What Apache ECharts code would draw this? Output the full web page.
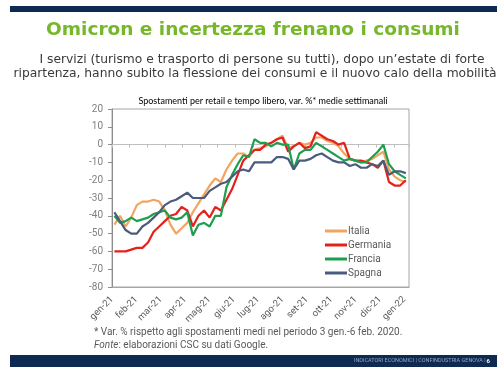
<!DOCTYPE html>
<html><head><meta charset="utf-8">
<script src="https://cdn.jsdelivr.net/npm/echarts@6/dist/echarts.min.js"></script>
<style>html,body{margin:0;padding:0;background:#fff}#c{width:504px;height:378px}</style>
</head><body><div id="c"></div>
<script>
// Weekly observations: day offset from 1 Jan 2021 (first week starts 4 Jan 2021)
const weekDays = Array.from({length: 53}, (_, i) => 3 + 7 * i);
const monthLabels = ['gen-21','feb-21','mar-21','apr-21','mag-21','giu-21','lug-21','ago-21','set-21','ott-21','nov-21','dic-21','gen-22'];
const yTicks = [-80, 20, 10];

const italia = [-45,-40,-46,-41,-34,-32,-32,-31,-32,-37,-45,-50,-47,-44,-38,-33,-28,-23,-19,-21,-14,-9,-5,-5,-7,-3,-2,-1,1,3,5,-2,-1,1,0,1,4,4,2,1,-1,-5,-8,-9,-10,-9,-8,-6,-4,-14,-18,-20,-21];
const germania = [-60,-60,-60,-59,-58,-58,-55,-49,-46,-43,-40,-39,-35,-37,-46,-40,-37,-41,-35,-37,-31,-25,-17,-9,-6,-3,-3,0,1,3,4,-4,-1,1,-2,-1,7,5,3,2,0,1,-8,-9,-9,-10,-11,-13,-9,-21,-23,-23,-20];
const francia = [-40,-44,-43,-41,-43,-42,-41,-39,-38,-37,-41,-42,-41,-38,-51,-45,-44,-46,-40,-40,-24,-17,-11,-6,-7,3,1,1,-1,1,0,0,-14,-5,-3,-3,1,-1,-3,-5,-7,-9,-8,-9,-10,-10,-7,-4,0,-11,-15,-17,-19];
const spagna = [-38,-43,-48,-50,-50,-46,-44,-41,-38,-34,-32,-31,-29,-27,-30,-30,-30,-26,-24,-22,-21,-18,-15,-14,-15,-10,-10,-10,-10,-7,-7,-8,-14,-9,-9,-8,-6,-5,-7,-9,-10,-10,-12,-11,-13,-13,-11,-12,-9,-17,-15,-15,-16];

const seriesDefs = [
  {name: 'Italia', data: italia, color: '#F2A461'},
  {name: 'Germania', data: germania, color: '#E3211C'},
  {name: 'Francia', data: francia, color: '#1E9F4E'},
  {name: 'Spagna', data: spagna, color: '#4A5B7C'}
];

const MONTH = 365.25 / 12;
const chart = echarts.init(document.getElementById('c'), null, {renderer: 'canvas'});
const navy = '#0E2A50';
chart.setOption({
  animation: false,
  backgroundColor: '#fff',
  grid: {left: 112, right: 95, top: 109, bottom: 91, show: true, borderColor: '#A6A6A6', borderWidth: 1, containLabel: false},
  title: [
    {text: 'Spostamenti per retail e tempo libero, var. %* medie settimanali', left: 258, top: 92, textAlign: 'center',
     textStyle: {color: '#000', fontFamily: 'Lato', fontWeight: 'normal', fontSize: 9}}
  ],
  legend: {
    orient: 'vertical', left: 320, top: 221, itemWidth: 22, itemHeight: 3, itemGap: 4,
    icon: 'rect',
    textStyle: {color: '#595959', fontFamily: 'Roboto', fontSize: 10, padding: [0, 0, 0, -4]},
    data: seriesDefs.map(s => s.name)
  },
  xAxis: [
    {type: 'value', min: 0, max: 371, interval: MONTH, position: 'bottom',
     axisLine: {onZero: false, lineStyle: {color: '#A6A6A6'}},
     axisTick: {show: false}, splitLine: {show: false},
     axisLabel: {rotate: 45, margin: 11, color: '#595959', fontFamily: 'Roboto', fontSize: 9.5, showMaxLabel: false,
       formatter: v => { const k = Math.round(v / MONTH); return Math.abs(v - k * MONTH) < 0.5 ? (monthLabels[k] || '') : ''; }}},
    {type: 'value', min: 0, max: 371, interval: 22, position: 'bottom',
     axisLine: {onZero: true, lineStyle: {color: '#BFBFBF'}},
     axisTick: {show: true, length: 3, lineStyle: {color: '#BFBFBF'}},
     axisLabel: {show: false}, splitLine: {show: false}}
  ],
  yAxis: {type: 'value', min: yTicks[0], max: yTicks[1], interval: yTicks[2],
    axisLine: {show: true, lineStyle: {color: '#8C8C8C'}},
    axisTick: {show: true, length: 4, lineStyle: {color: '#8C8C8C'}},
    splitLine: {show: false},
    axisLabel: {color: '#7F7F7F', fontFamily: 'Roboto', fontSize: 10, margin: 9}},
  series: seriesDefs.map(s => ({
    name: s.name, type: 'line', xAxisIndex: 0, symbol: 'none', smooth: false,
    data: s.data.map((v, i) => [weekDays[i], v]),
    lineStyle: {color: s.color, width: 2.2}, itemStyle: {color: s.color}
  })),
  graphic: [
    {type: 'rect', shape: {x: 10, y: 6, width: 487, height: 6}, style: {fill: navy}},
    {type: 'text', x: 253, y: 30, style: {text: 'Omicron e incertezza frenano i consumi', fill: '#76B82A', font: 'bold 18.5px "DejaVu Sans"', textAlign: 'center', textVerticalAlign: 'middle'}},
    {type: 'text', x: 262, y: 60, style: {text: 'I servizi (turismo e trasporto di persone su tutti), dopo un\u2019estate di forte', fill: '#3A3A3A', font: '12.3px "DejaVu Sans"', textAlign: 'center', textVerticalAlign: 'middle'}},
    {type: 'text', x: 255, y: 74, style: {text: 'ripartenza, hanno subito la flessione dei consumi e il nuovo calo della mobilità', fill: '#3A3A3A', font: '12.3px "DejaVu Sans"', textAlign: 'center', textVerticalAlign: 'middle'}},
    {type: 'rect', shape: {x: 10, y: 355, width: 487, height: 12}, style: {fill: navy}},
    {type: 'text', x: 487, y: 361, style: {text: 'INDICATORI ECONOMICI | CONFINDUSTRIA GENOVA | ', fill: '#8FA3C0', font: '5.5px Roboto', textAlign: 'right', textVerticalAlign: 'middle'}},
    {type: 'text', x: 490, y: 361, style: {text: '6', fill: '#fff', font: 'bold 6px Roboto', textAlign: 'right', textVerticalAlign: 'middle'}},
    {type: 'text', x: 94, y: 332, style: {text: '* Var. % rispetto agli spostamenti medi nel periodo 3 gen.-6 feb. 2020.', fill: '#595959', font: '10px Roboto', textVerticalAlign: 'middle'}},
    {type: 'text', x: 94, y: 345, style: {text: '{i|Fonte}: elaborazioni CSC su dati Google.', fill: '#595959', font: '10px Roboto', textVerticalAlign: 'middle',
      rich: {i: {fontStyle: 'italic', fontSize: 10, fontFamily: 'Roboto', fill: '#595959'}}}}
  ]
});
</script></body></html>
